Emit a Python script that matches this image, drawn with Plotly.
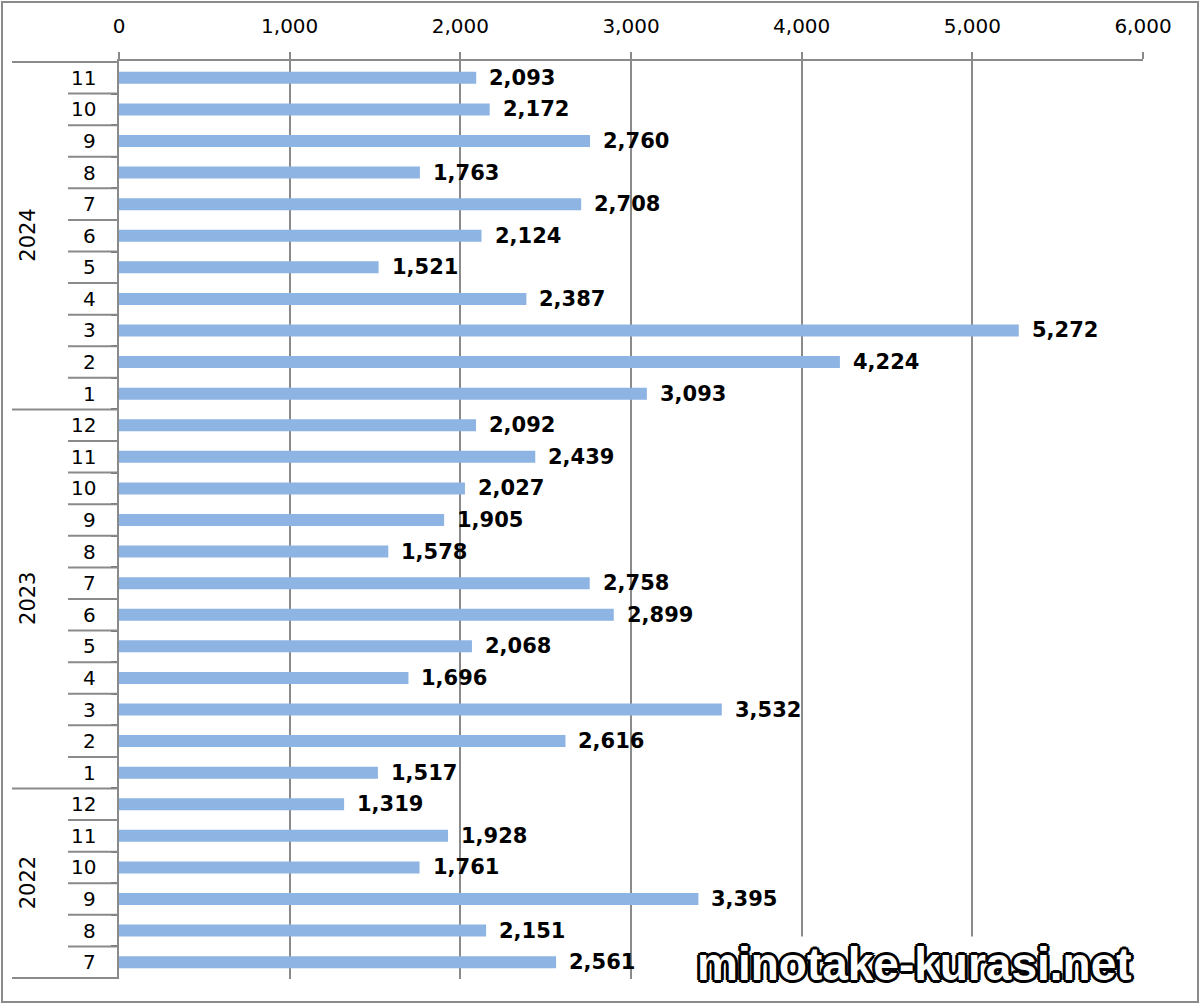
import plotly.graph_objects as go

years = ["2024"] * 11 + ["2023"] * 12 + ["2022"] * 6
months = ["11", "10", "9", "8", "7", "6", "5", "4", "3", "2", "1",
          "12", "11", "10", "9", "8", "7", "6", "5", "4", "3", "2", "1",
          "12", "11", "10", "9", "8", "7"]
values = [2093, 2172, 2760, 1763, 2708, 2124, 1521, 2387, 5272, 4224, 3093,
          2092, 2439, 2027, 1905, 1578, 2758, 2899, 2068, 1696, 3532, 2616, 1517,
          1319, 1928, 1761, 3395, 2151, 2561]
x_ticks = [0, 1000, 2000, 3000, 4000, 5000, 6000]

cats = [f"{y}-{m}" for y, m in zip(years, months)]

W, H = 1200, 1004
L, R, T, B = 119, 57, 61, 25
PW, PH = W - L - R, H - T - B


def px_x(p):
    return (p - L) / PW


def px_y(p):
    return (H - B - p) / PH


GRAY = "#8a8a8a"
FONT = "DejaVu Sans"

fig = go.Figure()
fig.add_trace(go.Bar(
    x=values, y=cats, orientation="h",
    marker=dict(color="#8db4e2", line=dict(width=0)),
    width=0.38, hoverinfo="x+y",
))

annotations = []
# data labels
for c, v in zip(cats, values):
    annotations.append(dict(
        x=v, y=c, xref="x", yref="y", text=f"{v:,}", showarrow=False,
        xanchor="left", yanchor="middle", xshift=11,
        font=dict(family=FONT, size=21, color="black", weight="bold"),
    ))
# month labels
for c, m in zip(cats, months):
    annotations.append(dict(
        x=px_x(98), y=c, xref="paper", yref="y", text=m, showarrow=False,
        xanchor="right", yanchor="middle",
        font=dict(family=FONT, size=20, color="black"),
    ))
# year labels and dividers
shapes = []
groups = []
start = 0
for i in range(1, len(years) + 1):
    if i == len(years) or years[i] != years[start]:
        groups.append((years[start], start, i - 1))
        start = i
for yr, s, e in groups:
    annotations.append(dict(
        x=px_x(28), y=(s + e) / 2, xref="paper", yref="y", text=yr,
        showarrow=False, textangle=-90, xanchor="center", yanchor="middle",
        font=dict(family=FONT, size=21, color="black"),
    ))
year_bounds = {s for _, s, _ in groups} | {len(years)}
for i in range(len(years) + 1):
    x0 = px_x(12) if i in year_bounds else px_x(68)
    shapes.append(dict(
        type="line", xref="paper", yref="y", x0=x0, x1=0,
        y0=i - 0.5, y1=i - 0.5, line=dict(color=GRAY, width=2),
    ))
# outer border
shapes.append(dict(
    type="rect", xref="paper", yref="paper",
    x0=px_x(2), x1=px_x(1198), y0=px_y(1002), y1=px_y(2),
    line=dict(color=GRAY, width=2), fillcolor="rgba(0,0,0,0)",
))
# watermark
annotations.append(dict(
    x=px_x(914), y=px_y(964), xref="paper", yref="paper",
    text="minotake-kurasi.net", showarrow=False,
    xanchor="center", yanchor="middle", bgcolor="white",
    font=dict(family="Liberation Sans", size=46, color="white", weight="bold",
              shadow="-2px -2px 0 #000, 2px -2px 0 #000, -2px 2px 0 #000, 2px 2px 0 #000, 0 2px 0 #000, 0 -2px 0 #000, 2px 0 0 #000, -2px 0 0 #000, 0 3px 0 #000, 0 -3px 0 #000, 3px 0 0 #000, -3px 0 0 #000"),
))

fig.update_layout(
    width=W, height=H,
    margin=dict(l=L, r=R, t=T, b=B),
    paper_bgcolor="white", plot_bgcolor="white",
    showlegend=False,
    annotations=annotations, shapes=shapes,
    font=dict(family=FONT, color="black"),
    xaxis=dict(
        side="top", range=[0, 6000], tickvals=x_ticks, tickformat=",",
        showgrid=True, gridcolor=GRAY, gridwidth=2,
        showline=True, linecolor=GRAY, linewidth=2,
        ticks="outside", ticklen=7, tickcolor=GRAY, tickwidth=2,
        ticklabelstandoff=11,
        zeroline=False, tickfont=dict(family=FONT, size=20, color="black"),
        fixedrange=True,
    ),
    yaxis=dict(
        type="category", categoryorder="array", categoryarray=cats,
        autorange="reversed", showticklabels=False,
        showline=True, linecolor=GRAY, linewidth=2,
        ticks="outside", tickson="boundaries", ticklen=6, tickcolor="#6a6a6a", tickwidth=2,
        showgrid=False, zeroline=False, fixedrange=True,
    ),
    bargap=0.6,
)

fig.write_html("out.html")
